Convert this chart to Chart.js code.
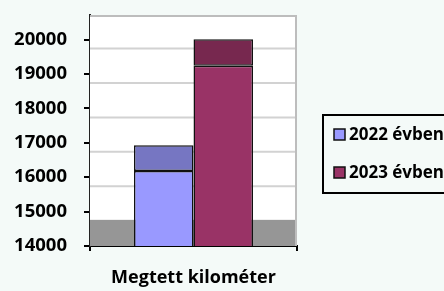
<!DOCTYPE html>
<html>
<head>
<meta charset="utf-8">
<script src="https://cdn.jsdelivr.net/npm/chart.js@4"></script>
<style>
  html, body { margin: 0; padding: 0; background: #f4faf8; }
  #wrap { width: 444px; height: 291px; }
</style>
</head>
<body>
<div id="wrap"><canvas id="kmChart" width="444" height="291"></canvas></div>
<script>
// Data
const categories = ['Megtett kilométer'];
const seriesLabels = ['2022 évben', '2023 évben'];
const frontValues = [16180, 19240];   // top of the front face of each column
const topValues = [16930, 20010];     // top of the 3D top face
const tickLabels = [14000, 15000, 16000, 17000, 18000, 19000, 20000];
const floorValue = 14760;             // back edge of the grey 3D floor

const frontColors = ['#9999ff', '#993366'];
const topColors = ['#7676c2', '#77284f'];
const fontFamily = '"Open Sans", "Liberation Sans", sans-serif';

// Build datasets: front face + top face share a stack per year
const datasets = [];
seriesLabels.forEach((label, i) => {
    datasets.push({
        label: label,
        data: [frontValues[i]],
        stack: 'y' + i,
        backgroundColor: frontColors[i],
        borderColor: '#111',
        borderWidth: 1.5,
        borderSkipped: 'start'
    });
    datasets.push({
        label: label + ' top',
        data: [[frontValues[i], topValues[i]]],
        stack: 'y' + i,
        backgroundColor: topColors[i],
        borderColor: '#111',
        borderWidth: 1.5,
        borderSkipped: false
    });
});

// Back wall, shifted gridlines and floor
const wallPlugin = {
    id: 'wall',
    beforeDatasetsDraw(chart) {
        const { ctx, chartArea: { left, right, top, bottom }, scales: { y } } = chart;
        const floorTop = y.getPixelForValue(floorValue);
        ctx.save();
        ctx.fillStyle = '#ffffff';
        ctx.fillRect(left, top, right - left, bottom - top);

        ctx.strokeStyle = '#d2d2d2';
        ctx.lineWidth = 2;
        tickLabels.forEach(v => {
            const yy = y.getPixelForValue(v) + 9;
            if (yy < floorTop - 2) {
                ctx.beginPath();
                ctx.moveTo(left, yy);
                ctx.lineTo(right, yy);
                ctx.stroke();
            }
        });

        ctx.fillStyle = '#969696';
        ctx.fillRect(left, floorTop, right - left - 2, bottom - floorTop);

        ctx.strokeStyle = '#bdbdbd';
        ctx.beginPath();
        ctx.moveTo(left, top + 1);
        ctx.lineTo(right - 1, top + 1);
        ctx.lineTo(right - 1, bottom);
        ctx.stroke();
        ctx.restore();
    }
};

// Boxed legend at the right
const legendPlugin = {
    id: 'boxLegend',
    afterDraw(chart) {
        const ctx = chart.ctx;
        ctx.save();
        ctx.lineWidth = 2;
        ctx.strokeStyle = '#000';
        ctx.strokeRect(323, 115, 140, 78);
        ctx.font = 'bold 17px ' + fontFamily;
        ctx.textBaseline = 'middle';
        ctx.textAlign = 'left';
        seriesLabels.forEach((label, i) => {
            const cy = 135 + i * 38;
            ctx.fillStyle = frontColors[i];
            ctx.fillRect(334, cy - 6, 11, 11);
            ctx.lineWidth = 1.5;
            ctx.strokeStyle = '#111';
            ctx.strokeRect(334, cy - 6, 11, 11);
            ctx.fillStyle = '#000';
            ctx.fillText(label, 349, cy);
        });
        ctx.restore();
    }
};

const kmChart = new Chart(document.getElementById('kmChart'), {
    type: 'bar',
    data: {
        labels: categories,
        datasets: datasets
    },
    options: {
        responsive: false,
        animation: false,
        devicePixelRatio: 1,
        layout: { padding: { top: 15, right: 147, left: 0, bottom: 0 } },
        categoryPercentage: 0.575,
        barPercentage: 1,
        plugins: {
            legend: { display: false },
            tooltip: { enabled: false }
        },
        scales: {
            x: {
                z: 1,
                grid: { offset: true, drawOnChartArea: false, tickLength: 5, color: '#000', lineWidth: 2 },
                border: { color: '#000', width: 2 },
                ticks: { color: '#000', padding: 16, font: { family: fontFamily, size: 18, weight: 'bold' } },
                afterFit(scale) {
                    scale.height = 45;
                    scale.paddingLeft = 0;
                    scale.paddingRight = 0;
                }
            },
            y: {
                stacked: false,
                min: tickLabels[0],
                max: 20715,
                grid: { drawOnChartArea: false, tickLength: 6, color: '#000', lineWidth: 2 },
                border: { color: '#222', width: 2 },
                ticks: {
                    stepSize: 1000,
                    includeBounds: false,
                    color: '#000',
                    padding: 17,
                    font: { family: fontFamily, size: 18.5, weight: 'bold' },
                    callback: v => String(v)
                },
                afterBuildTicks(scale) {
                    scale.ticks = tickLabels.map(v => ({ value: v }));
                },
                afterFit(scale) {
                    scale.width = 90;
                    scale.paddingTop = 0;
                    scale.paddingBottom = 0;
                }
            }
        }
    },
    plugins: [wallPlugin, legendPlugin]
});
</script>
</body>
</html>
